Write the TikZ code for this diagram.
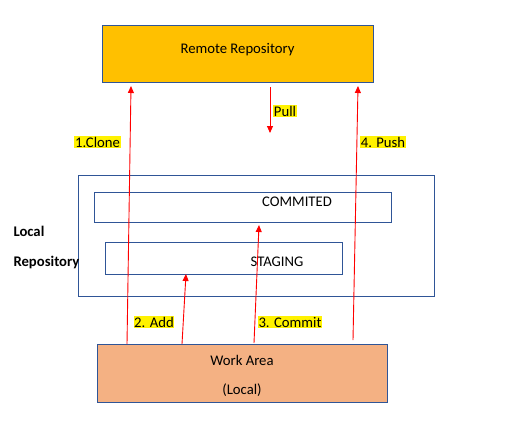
\documentclass[tikz,border=0pt]{standalone}
\usepackage{fontspec}
\setmainfont{Carlito}
\usetikzlibrary{arrows.meta}
\definecolor{boxblue}{HTML}{2F5597}
\definecolor{remotefill}{HTML}{FFC000}
\definecolor{workfill}{HTML}{F4B183}
\begin{document}
\begin{tikzpicture}[x=1pt,y=-1pt,
  every node/.style={font=\fontsize{14.7}{17}\selectfont},
  txt/.style={yshift=-1.5pt},
  box/.style={draw=boxblue,line width=1pt},
  hl/.style={fill=yellow,inner sep=0.6pt,yshift=-1pt},
  redarrow/.style={draw=red,line width=0.9pt,-{Triangle[length=7pt,width=6pt]}}]
\useasboundingbox (0,0) rectangle (505,421);
% boxes
\node[box,fill=remotefill,minimum width=271pt,minimum height=57pt,anchor=north west] (remote) at (102,25) {};
\node[txt] (rtext) at (237.5,48) {Remote Repository};
\node[box,minimum width=356pt,minimum height=121pt,anchor=north west] (local) at (78,175) {};
\node[box,minimum width=297pt,minimum height=30pt,anchor=north west] (commited) at (94,192) {};
\node[txt] (ctext) at (297,200) {COMMITED};
\node[box,minimum width=237pt,minimum height=32pt,anchor=north west] (staging) at (105,242) {};
\node[txt] (stext) at (277,260) {STAGING};
\node[box,fill=workfill,minimum width=290pt,minimum height=58pt,anchor=north west] (work) at (97,344) {};
\node[txt] (wtext) at (242,359) {Work Area};
\node[txt] (ltext) at (242,389) {(Local)};
% side label
\node[txt,font=\fontsize{14.7}{17}\selectfont\bfseries,anchor=west] (loc1) at (10,230) {Local};
\node[txt,font=\fontsize{14.7}{17}\selectfont\bfseries,anchor=west] (loc2) at (10,261) {Repository};
% arrow end points
\coordinate (cloneA) at (127,344);
\coordinate (cloneB) at (131,86);
\coordinate (pushA) at (353,340);
\coordinate (pushB) at (358,86);
\coordinate (pullA) at (270,87);
\coordinate (pullB) at (270,133);
\coordinate (addA) at (182,344);
\coordinate (addB) at (186,274);
\coordinate (comA) at (254,343);
\coordinate (comB) at (259,225);
\draw[redarrow] (cloneA) -- (cloneB);
\draw[redarrow] (pushA) -- (pushB);
\draw[redarrow] (pullA) -- (pullB);
\draw[redarrow] (addA) -- (addB);
\draw[redarrow] (comA) -- (comB);
% labels
\node[hl] (lclone) at (97.5,141) {1.Clone};
\node[hl] (lpush) at (383,141) {4. Push};
\node[hl] (lpull) at (285,110) {Pull};
\node[hl] (ladd) at (154,321) {2. Add};
\node[hl] (lcom) at (290,321) {3. Commit};
\end{tikzpicture}
\end{document}
